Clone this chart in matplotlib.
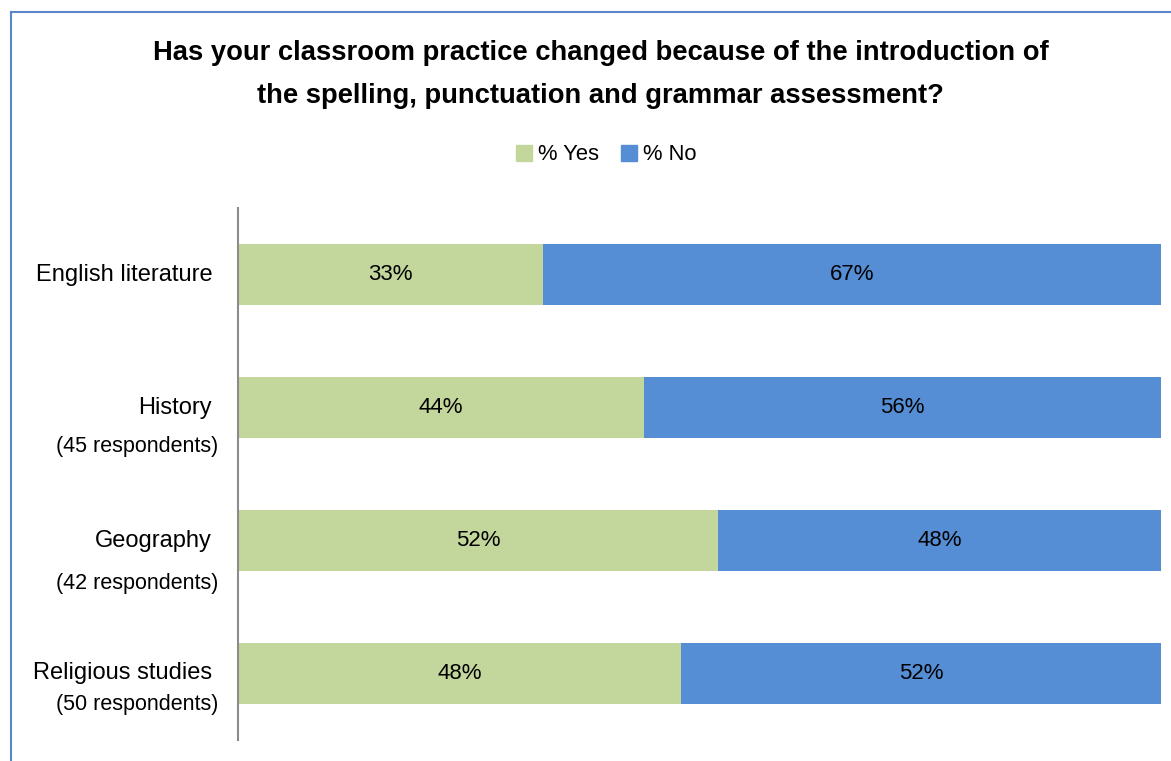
import matplotlib.pyplot as plt
from matplotlib.lines import Line2D
from matplotlib.patches import Patch

plt.rcParams["font.family"] = ["Liberation Sans", "DejaVu Sans"]

subjects = ["English literature", "History", "Geography", "Religious studies"]
respondents = ["", "(45 respondents)", "(42 respondents)", "(50 respondents)"]
pct_yes = [33, 44, 52, 48]
pct_no = [67, 56, 48, 52]

green = "#C3D69B"
blue = "#558ED5"

fig = plt.figure(figsize=(11.71, 7.61), dpi=100)
ax = fig.add_axes([238 / 1171, 1 - 740 / 761, (1161 - 238) / 1171, (740 - 208) / 761])

ypos = list(range(len(subjects)))
ax.barh(ypos, pct_yes, height=0.46, color=green)
ax.barh(ypos, pct_no, left=pct_yes, height=0.46, color=blue)

# Segment labels
for y, yes, no in zip(ypos, pct_yes, pct_no):
    ax.text(yes / 2, y, f"{yes}%", ha="center", va="center", fontsize=16)
    ax.text(yes + no / 2, y, f"{no}%", ha="center", va="center", fontsize=16)

ax.set_xlim(0, 100)
ax.set_ylim(3.5, -0.5)
ax.set_xticks([])
ax.set_yticks([])
for side in ["top", "right", "bottom"]:
    ax.spines[side].set_visible(False)
ax.spines["left"].set_color("#8C8C8C")
ax.spines["left"].set_linewidth(1.5)

# Category labels drawn by hand so the second line can sit below the bar centre
sub_offsets = [0, 0.29, 0.32, 0.23]
for y, name, resp, off in zip(ypos, subjects, respondents, sub_offsets):
    ax.text(-2.8, y, name, ha="right", va="center", fontsize=17)
    if resp:
        ax.text(-2.1, y + off, resp, ha="right", va="center", fontsize=15.5)

fig.text(0.513, 1 - 53 / 761, "Has your classroom practice changed because of the introduction of",
         ha="center", va="center", fontsize=19.7, fontweight="bold")
fig.text(0.513, 1 - 96 / 761, "the spelling, punctuation and grammar assessment?",
         ha="center", va="center", fontsize=19.7, fontweight="bold")

handles = [Patch(color=green, label="% Yes"), Patch(color=blue, label="% No")]
fig.legend(handles=handles, loc="center", bbox_to_anchor=(0.518, 1 - 155 / 761), ncol=2,
           frameon=False, fontsize=15.8, handlelength=0.7, handleheight=0.7,
           handletextpad=0.3, columnspacing=1.0)

# Outer chart frame (only the left and top edges are in view)
fig.add_artist(Line2D([11 / 1171, 11 / 1171], [0, 1 - 12 / 761], color="#5B87C9", lw=1.5))
fig.add_artist(Line2D([11 / 1171, 1], [1 - 12 / 761, 1 - 12 / 761], color="#5B87C9", lw=1.5))

fig.savefig("out.png", dpi=100)
